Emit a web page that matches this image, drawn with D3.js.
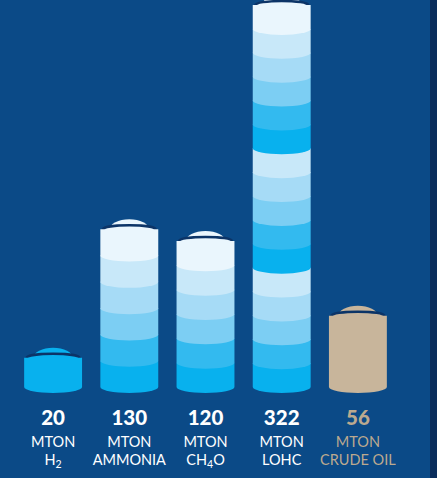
<!DOCTYPE html>
<html><head><meta charset="utf-8">
<script src="https://cdn.jsdelivr.net/npm/d3@7"></script>
<style>html,body{margin:0;padding:0;background:#0b4a87;}svg{display:block;}</style>
</head><body>
<svg id="c" width="437" height="478"></svg>
<script>
// ---- data ----
const categories = ["H2", "AMMONIA", "CH4O", "LOHC", "CRUDE OIL"];
const values = [20, 130, 120, 322, 56];
const units = ["MTON", "MTON", "MTON", "MTON", "MTON"];
// band groups in each cylinder (decorative stacking, top→bottom)
const bandGroups = [[1], [6], [6], [6, 5, 5], [1]];
const isOil = [false, false, false, false, true];

// ---- styles ----
const W = 437, H = 478;
const bg = "#0b4a87", strip = "#0a2d5c";
const palette = ["#eaf6fd", "#c8e8f9", "#a6dbf6", "#7ccef3", "#33baef", "#08b1ee"];
const oilColor = "#c8b59b";
const ringColor = "#0c3467";

const svg = d3.select("#c");
svg.append("rect").attr("width", W).attr("height", H).attr("fill", bg);
svg.append("rect").attr("x", 430).attr("width", W - 430).attr("height", H).attr("fill", strip);

const x = d3.scaleBand().domain(categories).range([15, 396]).paddingInner(0.24).paddingOuter(0.12);
const baseY = 387;
const y = d3.scaleLinear().domain([-5, 322]).range([baseY, 5]);
const ry = 6;

function bandPath(x0, x1, top, bot) {
  const rx = (x1 - x0) / 2;
  return `M${x0},${top}L${x1},${top}L${x1},${bot}A${rx},${ry} 0 0 1 ${x0},${bot}Z`;
}

categories.forEach((c, i) => {
  const x0 = x(c), bw = x.bandwidth(), x1 = x0 + bw, cx = x0 + bw / 2;
  const top = y(values[i]);
  const g = svg.append("g");
  let cols = [];
  if (isOil[i]) cols = [oilColor];
  else bandGroups[i].forEach(n => { for (let k = 0; k < n; k++) cols.push(palette[6 - n + k]); });
  const n = cols.length;
  const bh = (baseY - top) / n;
  const topColor = cols[0];
  // dome (behind ring)
  const dr = bw * 0.34, dh = 10;
  g.append("path")
    .attr("d", `M${cx - dr},${top}A${dr},${dh} 0 0 1 ${cx + dr},${top}Z`)
    .attr("fill", topColor);
  // ring (lid)
  g.append("ellipse").attr("cx", cx).attr("cy", top).attr("rx", bw / 2 - 2.5).attr("ry", 4)
    .attr("fill", topColor).attr("stroke", ringColor).attr("stroke-width", 2.4);
  // bands drawn bottom first
  for (let k = n - 1; k >= 0; k--) {
    const t = top + k * bh, b = top + (k + 1) * bh;
    g.append("path").attr("d", bandPath(x0, x1, t, b)).attr("fill", cols[k]);
  }
  // labels
  const txtColor = isOil[i] ? "#bba98f" : "#ffffff";
  const lab = svg.append("g").attr("fill", txtColor).attr("text-anchor", "middle")
    .attr("font-family", "Lato, 'Open Sans', sans-serif");
  lab.append("text").attr("x", cx).attr("y", 425).attr("font-size", 20.5).attr("font-weight", 900)
    .text(values[i]);
  lab.append("text").attr("x", cx).attr("y", 447).attr("font-size", 14.5).attr("font-weight", 400)
    .text(units[i]);
  const t3 = lab.append("text").attr("x", cx).attr("y", 465).attr("font-size", 14.5).attr("font-weight", 400);
  const m = c.match(/^([A-Z]+)(\d)([A-Z]*)$/);
  if (m) {
    t3.append("tspan").text(m[1]);
    t3.append("tspan").attr("font-size", 10.5).attr("dy", 3).text(m[2]);
    if (m[3]) t3.append("tspan").attr("dy", -3).text(m[3]);
  } else t3.text(c);
});
</script>
</body></html>
